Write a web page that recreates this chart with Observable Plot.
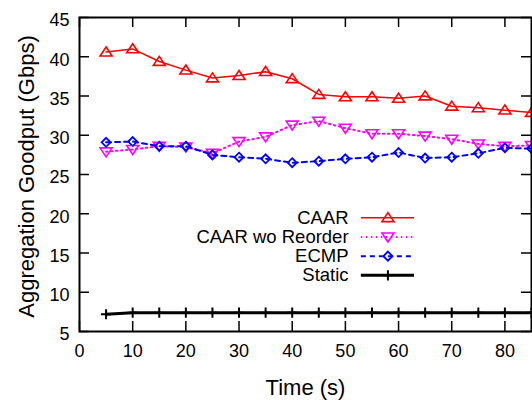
<!DOCTYPE html>
<html>
<head>
<meta charset="utf-8">
<script src="https://cdn.jsdelivr.net/npm/d3@7"></script>
<script src="https://cdn.jsdelivr.net/npm/@observablehq/plot@0.6"></script>
<style>
  html, body { margin: 0; padding: 0; background: #fff; }
  svg { display: block; }
</style>
</head>
<body>
<div id="chart"></div>
<script>
// ---- data ----
const time = [5, 10, 15, 20, 25, 30, 35, 40, 45, 50, 55, 60, 65, 70, 75, 80, 85];
const caar = [40.6, 41.0, 39.4, 38.3, 37.3, 37.6, 38.1, 37.2, 35.2, 34.9, 34.9, 34.7, 35.0, 33.7, 33.5, 33.2, 32.9];
const caarWoReorder = [27.9, 28.2, 28.6, 28.5, 27.7, 29.2, 29.8, 31.3, 31.8, 30.9, 30.2, 30.2, 29.9, 29.5, 28.9, 28.6, 28.7];
const ecmp = [29.1, 29.2, 28.6, 28.6, 27.5, 27.2, 27.0, 26.5, 26.7, 27.0, 27.2, 27.8, 27.1, 27.2, 27.7, 28.4, 28.3];
const staticRoute = [7.2, 7.4, 7.4, 7.4, 7.4, 7.4, 7.4, 7.4, 7.4, 7.4, 7.4, 7.4, 7.4, 7.4, 7.4, 7.4, 7.4];
const seriesNames = ["CAAR", "CAAR wo Reorder", "ECMP", "Static"];
const xTicks = [0, 10, 20, 30, 40, 50, 60, 70, 80];
const yTicks = [5, 10, 15, 20, 25, 30, 35, 40, 45];
const xLabel = "Time (s)";
const yLabel = "Aggregation Goodput (Gbps)";

// ---- marker shapes (gnuplot-like) ----
const rad = (size) => Math.sqrt(size / Math.PI);
const triUp = { draw(c, s) { const r = rad(s); c.moveTo(0, -0.85 * r); c.lineTo(r, 0.65 * r); c.lineTo(-r, 0.65 * r); c.closePath(); } };
const triDown = { draw(c, s) { const r = rad(s); c.moveTo(0, 0.85 * r); c.lineTo(r, -0.65 * r); c.lineTo(-r, -0.65 * r); c.closePath(); } };
const diamond = { draw(c, s) { const r = rad(s) * 0.75; c.moveTo(0, -r); c.lineTo(r, 0); c.lineTo(0, r); c.lineTo(-r, 0); c.closePath(); } };
const plus = { draw(c, s) { const r = rad(s) * 0.85; c.moveTo(0, -r); c.lineTo(0, r); c.moveTo(-r, 0); c.lineTo(r, 0); } };

const styles = [
  { color: "#ff0000", dash: null, width: 1.5, symbol: triUp, mw: 1.6 },
  { color: "#ff00ff", dash: "1.5,3.5", width: 2, symbol: triDown, mw: 1.6 },
  { color: "#0000ff", dash: "5,4", width: 2, symbol: diamond, mw: 1.8 },
  { color: "#000000", dash: null, width: 3, symbol: plus, mw: 2 }
];
const values = [caar, caarWoReorder, ecmp, staticRoute];
const series = seriesNames.map((name, i) => ({
  name, ...styles[i],
  rows: time.map((t, j) => ({ time: t, value: values[i][j] }))
}));

// ---- layout ----
const W = 532, H = 400;
const mL = 79, mR = 1, mT = 17, mB = 69;
const fw = W - mL - mR, fh = H - mT - mB, tl = 10;
const FONT = "Liberation Sans, Arial, Helvetica, sans-serif";

// legend position in data units
const legX = 50.6, legL1 = 53, legL2 = 63, legM = 58;
const legY = (i) => 19.5 - i * 2.45;

const marks = [];
// inward ticks on all four sides
marks.push(Plot.ruleX(xTicks, { x: d => d, insetTop: fh - tl, stroke: "black", strokeWidth: 1.5 }));
marks.push(Plot.ruleX(xTicks, { x: d => d, insetBottom: fh - tl, stroke: "black", strokeWidth: 1.5 }));
marks.push(Plot.ruleY(yTicks, { y: d => d, insetRight: fw - tl, stroke: "black", strokeWidth: 1.5 }));
marks.push(Plot.ruleY(yTicks, { y: d => d, insetLeft: fw - tl, stroke: "black", strokeWidth: 1.5 }));

series.forEach((s, i) => {
  marks.push(Plot.line(s.rows, { x: "time", y: "value", stroke: s.color, strokeWidth: s.width, strokeDasharray: s.dash }));
  marks.push(Plot.dot(s.rows, { x: "time", y: "value", symbol: s.symbol, r: 6, stroke: s.color, fill: "none", strokeWidth: s.mw }));
  // legend
  marks.push(Plot.text([s.name], { x: legX, y: legY(i), text: d => d, textAnchor: "end", fontSize: 18.5, fill: "black" }));
  marks.push(Plot.ruleY([legY(i)], { y: d => d, x1: legL1, x2: legL2, stroke: s.color, strokeWidth: s.width, strokeDasharray: s.dash }));
  marks.push(Plot.dot([legY(i)], { x: legM, y: d => d, symbol: s.symbol, r: 6, stroke: s.color, fill: "none", strokeWidth: s.mw }));
});

marks.push(Plot.frame({ stroke: "black", strokeWidth: 2 }));
marks.push(Plot.axisX({ ticks: xTicks, tickSize: 0, tickPadding: 13, label: null, fontSize: 18, tickFormat: d => String(d) }));
marks.push(Plot.axisY({ ticks: yTicks, tickSize: 0, tickPadding: 10, label: null, fontSize: 18, dy: 3, tickFormat: d => String(d) }));
marks.push(Plot.text([xLabel], { frameAnchor: "bottom", textAnchor: "middle", text: d => d, dy: 63, lineAnchor: "bottom", fontSize: 22, fill: "black" }));
marks.push(Plot.text([yLabel], { frameAnchor: "left", textAnchor: "middle", text: d => d, rotate: -90, dx: -46, dy: 2, lineAnchor: "bottom", fontSize: 22, fill: "black" }));

const chart = Plot.plot({
  width: W, height: H,
  marginLeft: mL, marginRight: mR, marginTop: mT, marginBottom: mB,
  style: { fontFamily: FONT, fontSize: "18px", color: "black", background: "white", overflow: "visible" },
  x: { domain: [0, 85], axis: null },
  y: { domain: [5, 45], axis: null },
  marks
});
document.getElementById("chart").appendChild(chart);
</script>
</body>
</html>
